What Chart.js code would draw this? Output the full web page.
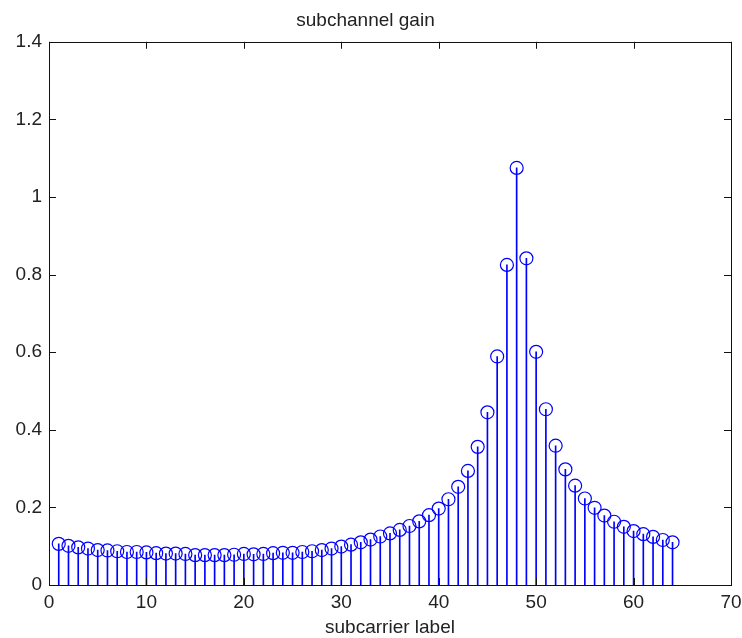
<!DOCTYPE html>
<html>
<head>
<meta charset="utf-8">
<script src="https://cdn.jsdelivr.net/npm/chart.js@4/dist/chart.umd.min.js"></script>
<style>
  html, body { margin: 0; padding: 0; background: #fff; }
  #wrap { width: 742px; height: 638px; }
</style>
</head>
<body>
<div id="wrap"><canvas id="c"></canvas></div>
<script>
// subcarrier index and channel gain
const subcarriers = [
  1, 2, 3, 4, 5, 6, 7, 8, 9, 10, 11, 12, 13, 14, 15, 16,
  17, 18, 19, 20, 21, 22, 23, 24, 25, 26, 27, 28, 29, 30, 31, 32,
  33, 34, 35, 36, 37, 38, 39, 40, 41, 42, 43, 44, 45, 46, 47, 48,
  49, 50, 51, 52, 53, 54, 55, 56, 57, 58, 59, 60, 61, 62, 63, 64
];
const gains = [
  0.106, 0.101, 0.097, 0.094, 0.090, 0.089, 0.087, 0.085, 0.085, 0.084, 0.082, 0.081, 0.081, 0.080, 0.077, 0.077,
  0.077, 0.077, 0.078, 0.080, 0.079, 0.080, 0.082, 0.083, 0.083, 0.085, 0.087, 0.090, 0.094, 0.099, 0.104, 0.110,
  0.117, 0.125, 0.133, 0.142, 0.152, 0.164, 0.180, 0.197, 0.221, 0.253, 0.294, 0.356, 0.445, 0.589, 0.825, 1.075,
  0.842, 0.601, 0.453, 0.359, 0.298, 0.256, 0.223, 0.199, 0.179, 0.163, 0.150, 0.139, 0.131, 0.124, 0.116, 0.110
];
const xTicks = [0, 10, 20, 30, 40, 50, 60, 70];
const yTicks = [0, 0.2, 0.4, 0.6, 0.8, 1, 1.2, 1.4];

const points = subcarriers.map((x, i) => ({ x: x, y: gains[i] }));
const FONT = '"Liberation Sans", Arial, Helvetica, sans-serif';

// matlab style box with inward ticks on all four sides
const boxPlugin = {
  id: "box",
  afterDatasetsDraw(chart) {
    const { ctx, chartArea: a, scales } = chart;
    const len = 7;
    ctx.save();
    ctx.strokeStyle = "#111";
    ctx.lineWidth = 1;
    ctx.beginPath();
    xTicks.forEach(v => {
      const px = Math.round(scales.x.getPixelForValue(v)) + 0.5;
      ctx.moveTo(px, a.bottom); ctx.lineTo(px, a.bottom - len);
      ctx.moveTo(px, a.top);    ctx.lineTo(px, a.top + len);
    });
    yTicks.forEach(v => {
      const py = Math.round(scales.y.getPixelForValue(v)) + 0.5;
      ctx.moveTo(a.left, py);  ctx.lineTo(a.left + len, py);
      ctx.moveTo(a.right, py); ctx.lineTo(a.right - len, py);
    });
    ctx.stroke();
    ctx.strokeRect(Math.round(a.left) + 0.5, Math.round(a.top) + 0.5,
                   Math.round(a.right - a.left), Math.round(a.bottom - a.top));
    ctx.restore();
  }
};

new Chart(document.getElementById("c").getContext("2d"), {
  data: {
    datasets: [
      {
        type: "scatter",
        data: points,
        pointStyle: "circle",
        pointRadius: 6.5,
        pointHoverRadius: 6.5,
        borderWidth: 1.2,
        borderColor: "#0000ff",
        backgroundColor: "rgba(0,0,0,0)",
        order: 0
      },
      {
        type: "bar",
        data: points,
        barThickness: 1,
        backgroundColor: "#0000ff",
        borderWidth: 0,
        order: 1
      }
    ]
  },
  options: {
    responsive: true,
    maintainAspectRatio: false,
    animation: false,
    layout: { padding: { left: 0, right: 11, top: 0, bottom: 0 } },
    plugins: {
      legend: { display: false },
      tooltip: { enabled: false },
      title: {
        display: true,
        text: "subchannel gain",
        color: "#222",
        font: { family: FONT, size: 19, weight: "normal", lineHeight: 1.2 },
        padding: { top: 9, bottom: 10 }
      }
    },
    scales: {
      x: {
        type: "linear",
        min: 0,
        max: 70,
        offset: false,
        grid: { display: false, drawTicks: false },
        border: { display: false },
        ticks: {
          stepSize: 10,
          padding: 6,
          color: "#222",
          font: { family: FONT, size: 19 },
          maxRotation: 0
        },
        title: {
          display: true,
          text: "subcarrier label",
          color: "#222",
          font: { family: FONT, size: 19, lineHeight: 1 },
          padding: { top: 0, bottom: 1 }
        },
        afterFit(scale) {
          scale.height = 53;
          scale.paddingLeft = 0;
          scale.paddingRight = 0;
        }
      },
      y: {
        min: 0,
        max: 1.4,
        grid: { display: false, drawTicks: false },
        border: { display: false },
        ticks: {
          stepSize: 0.2,
          padding: 7,
          color: "#222",
          font: { family: FONT, size: 19 },
          callback: v => String(Number(v.toFixed(1)))
        },
        afterFit(scale) {
          scale.width = 49;
          scale.paddingTop = 0;
          scale.paddingBottom = 0;
        }
      }
    }
  },
  plugins: [boxPlugin]
});
</script>
</body>
</html>
